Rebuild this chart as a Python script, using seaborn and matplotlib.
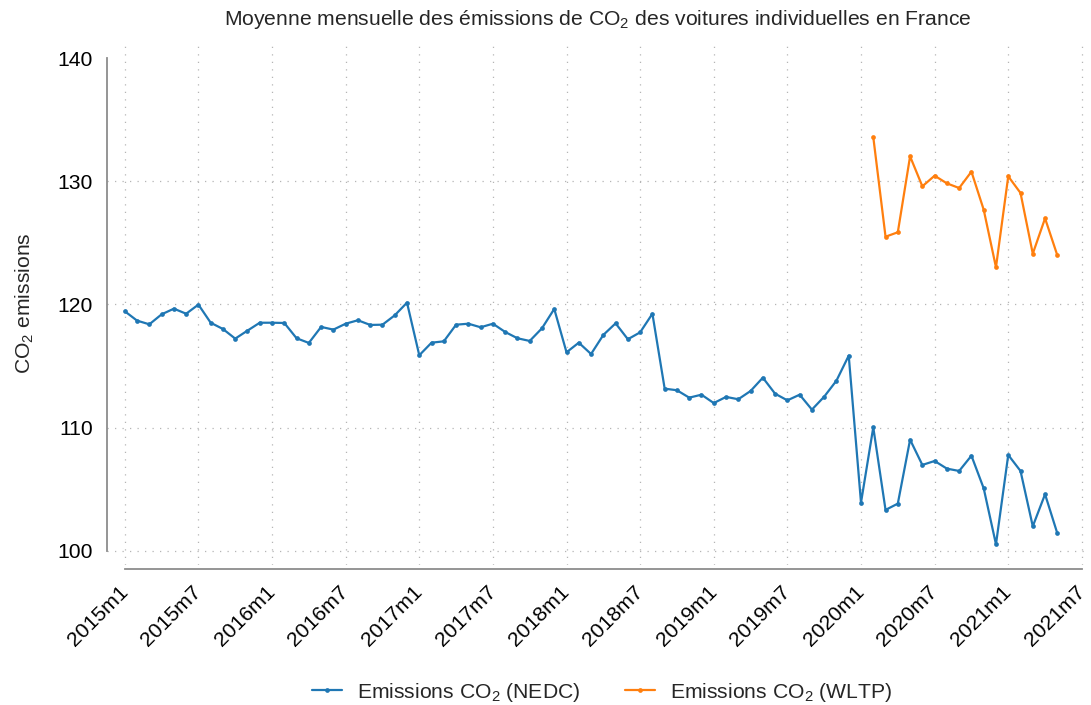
import matplotlib
matplotlib.use("Agg")
import matplotlib.pyplot as plt
import seaborn as sns
import pandas as pd
import numpy as np

# ---- data ----
nedc_values = [119.45, 118.69, 118.39, 119.2, 119.66, 119.25, 119.99, 118.52, 118.01, 117.23,
               117.88, 118.52, 118.52, 118.5, 117.26, 116.88, 118.18, 117.96, 118.44, 118.72,
               118.34, 118.36, 119.12, 120.15, 115.88, 116.9, 117.01, 118.36, 118.44, 118.15,
               118.44, 117.77, 117.26, 117.04, 118.07, 119.64, 116.12, 116.9, 115.98, 117.53,
               118.47, 117.18, 117.74, 119.25, 113.17, 113.04, 112.44, 112.68, 112.0, 112.5,
               112.31, 112.98, 114.06, 112.76, 112.22, 112.68, 111.47, 112.52, 113.82, 115.85,
               103.92, 110.03, 103.33, 103.84, 109.03, 106.98, 107.3, 106.68, 106.49, 107.73,
               105.08, 100.54, 107.79, 106.49, 102.0, 104.6, 101.43]
wltp_start_month = 61  # 2020m2
wltp_values = [133.59, 125.5, 125.86, 132.02, 129.59, 130.45, 129.83, 129.45, 130.78, 127.69,
               123.02, 130.4, 129.05, 124.12, 126.99, 123.99]
tick_months = list(range(0, 79, 6))
tick_labels = ["2015m1", "2015m7", "2016m1", "2016m7", "2017m1", "2017m7", "2018m1", "2018m7",
               "2019m1", "2019m7", "2020m1", "2020m7", "2021m1", "2021m7"]
y_ticks = [100, 110, 120, 130, 140]
series_names = ["Emissions CO$_\\mathrm{2}$ (NEDC)", "Emissions CO$_\\mathrm{2}$ (WLTP)"]
colors = ["#1f77b4", "#ff7f0e"]

df = pd.concat([
    pd.DataFrame({"month": np.arange(len(nedc_values)), "value": nedc_values, "series": series_names[0]}),
    pd.DataFrame({"month": np.arange(len(wltp_values)) + wltp_start_month, "value": wltp_values,
                  "series": series_names[1]}),
], ignore_index=True)

# ---- style ----
sns.set_style("white")
plt.rcParams["font.family"] = ["Liberation Sans", "DejaVu Sans"]
plt.rcParams["mathtext.fontset"] = "custom"
plt.rcParams["mathtext.rm"] = "Liberation Sans"
plt.rcParams["mathtext.it"] = "Liberation Sans:italic"
plt.rcParams["mathtext.bf"] = "Liberation Sans:bold"
FS = 15.2

fig = plt.figure(figsize=(10.91, 7.05), dpi=100)
ax = fig.add_axes([107 / 1091, 1 - 565 / 705, (1088 - 107) / 1091, (565 - 42) / 705])

sns.lineplot(data=df, x="month", y="value", hue="series", palette=colors, marker="o",
             markersize=3.4, markeredgewidth=0, linewidth=1.6, ax=ax)

ax.set_xlim(-1.45, 78.5)
ax.set_ylim(98.86, 141.3)

spine_col = "#8c8c8c"
for s in ["top", "right"]:
    ax.spines[s].set_visible(False)
ax.spines["left"].set_color(spine_col)
ax.spines["bottom"].set_color(spine_col)
ax.spines["left"].set_linewidth(1.3)
ax.spines["bottom"].set_linewidth(1.3)
ax.spines["left"].set_bounds(100, 140)
ax.spines["bottom"].set_bounds(0, 78)
ax.spines["bottom"].set_position(("outward", 3))

ax.set_xticks(tick_months)
ax.set_xticklabels(tick_labels, rotation=45, ha="right", va="center", rotation_mode="anchor")
ax.set_yticks(y_ticks)
ax.tick_params(axis="y", direction="out", length=7.2, width=1.3, color=spine_col,
               labelsize=FS, labelcolor="black", pad=3)
ax.tick_params(axis="x", direction="out", length=8.5, width=1.3, color=spine_col,
               labelsize=FS, labelcolor="black", pad=6)

# grid
for m in tick_months:
    ax.axvline(m, color="#b5b5b5", lw=0.9, ls=(0, (1, 5)), zorder=0)
for yv in y_ticks[:-1]:
    ax.axhline(yv, color="#b5b5b5", lw=0.9, ls=(0, (1, 5)), zorder=0)

ax.set_xlabel("")
ax.set_ylabel("CO$_\\mathrm{2}$ emissions", fontsize=FS, labelpad=15)
ax.set_title("Moyenne mensuelle des émissions de CO$_\\mathrm{2}$ des voitures individuelles en France",
             fontsize=FS, pad=12)

handles, labels = ax.get_legend_handles_labels()
leg = ax.legend(handles, labels, loc="center", bbox_to_anchor=(602 / 1091, 1 - 692 / 705),
                bbox_transform=fig.transFigure, ncol=2, frameon=False, fontsize=FS,
                handlelength=1.45, handletextpad=0.7, columnspacing=2.1)

fig.savefig("out.png", dpi=100)
